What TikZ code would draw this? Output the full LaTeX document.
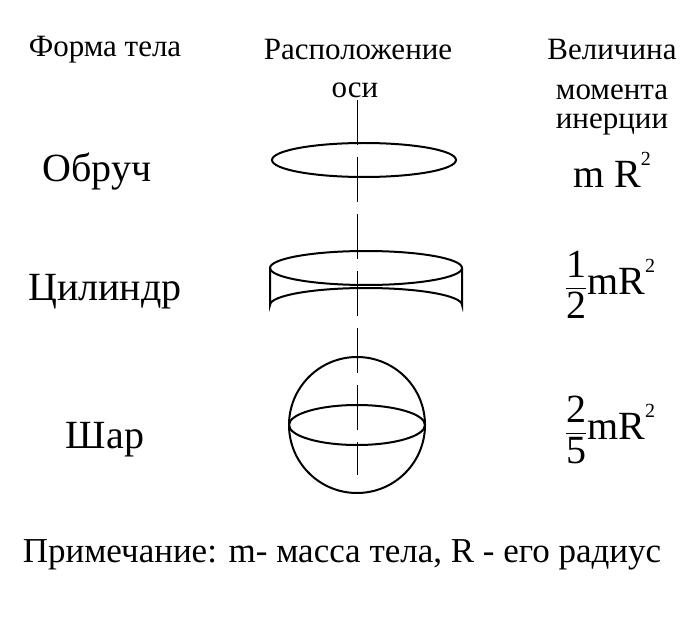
\documentclass[tikz,border=0pt]{standalone}
\usepackage{fontspec}
\usepackage{amsmath}
\setmainfont{Liberation Serif}
\newcommand{\suptwo}{\raisebox{0.55em}{\fontsize{20}{20}\selectfont 2}}
\begin{document}
\begin{tikzpicture}[x=1pt,y=-1pt,line width=2pt,
  hdr/.style={font=\fontsize{31}{33}\selectfont,inner sep=0pt},
  body/.style={font=\fontsize{40}{42}\selectfont,inner sep=0pt}]
\useasboundingbox (0,0) rectangle (698,628);
\node[hdr] (h1) at (105,50) {Форма тела};
\node[hdr] (h2) at (358,50) {Расположение};
\node[hdr] (h2b) at (355,90) {оси};
\node[hdr] (h3) at (612,50) {Величина};
\node[hdr] (h3b) at (612,92) {момента};
\node[hdr] (h3c) at (612,124) {инерции};
\node[body] (b1) at (97,172) {Обруч};
\node[body] (b2) at (105,292) {Цилиндр};
\node[body] (b3) at (105,440) {Шар};
\draw[line width=1pt,dash pattern=on 45pt off 12pt] (357,100) -- (357,475);
\draw (364,160) ellipse [x radius=92,y radius=17];
\draw (366,268) ellipse [x radius=96,y radius=17];
\draw (270,268) -- (270,305) arc[start angle=180,end angle=360,x radius=96,y radius=17] -- (462,268);
\draw (357,425) circle [radius=68];
\draw (357,425) ellipse [x radius=68,y radius=20];
\node[body] (f1) at (612,170) {m R\suptwo};
\node[body] (f2) at (610,285) {$\dfrac{\mathrm{1}}{\mathrm{2}}$mR\suptwo};
\node[body] (f3) at (610,430) {$\dfrac{\mathrm{2}}{\mathrm{5}}$mR\suptwo};
\node[font=\fontsize{35}{37}\selectfont,inner sep=0pt] (n) at (342,555) {Примечание: m- масса тела, R - его радиус};
\end{tikzpicture}
\end{document}
